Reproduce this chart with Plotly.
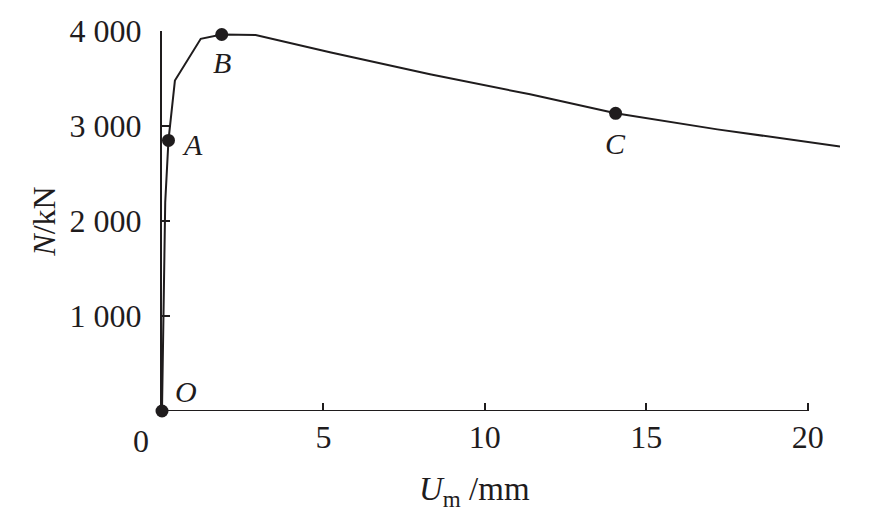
import plotly.graph_objects as go

# load-displacement curve
u_mm = [0, 0.06, 0.1, 0.2, 0.4, 1.2, 1.85, 2.9, 5.2, 8.3, 11.4, 14.05, 17.2, 21.0]
n_kn = [0, 1500, 2200, 2850, 3480, 3920, 3965, 3960, 3778, 3546, 3335, 3135, 2966, 2786]

# marked points
pt_names = ['O', 'A', 'B', 'C']
pt_u = [0, 0.2, 1.85, 14.05]
pt_n = [0, 2850, 3965, 3135]
pt_shift = [(24, 20), (24, -4), (0, -28), (0, -30)]

x_ticks = [5, 10, 15, 20]
y_ticks = [1000, 2000, 3000, 4000]
y_labels = ['1 000', '2 000', '3 000', '4 000']

FONT = 'Liberation Serif'
INK = '#1f1c1d'

fig = go.Figure()

fig.add_scatter(
    x=u_mm, y=n_kn, mode='lines',
    line=dict(color=INK, width=2),
    cliponaxis=False, showlegend=False,
)
fig.add_scatter(
    x=pt_u, y=pt_n, mode='markers',
    marker=dict(color=INK, size=13),
    cliponaxis=False, showlegend=False,
)

for name, u, n, (dx, dy) in zip(pt_names, pt_u, pt_n, pt_shift):
    fig.add_annotation(
        x=u, y=n, text='<i>%s</i>' % name, showarrow=False,
        xshift=dx, yshift=dy, font=dict(size=30, color=INK, family=FONT),
    )

# origin label sits left of the axis
fig.add_annotation(
    x=0, y=0, text='0', showarrow=False, xanchor='center', yanchor='top',
    xshift=-21, yshift=-10, font=dict(size=32, color=INK, family=FONT),
)
# x title, centred on the drawn axis
fig.add_annotation(
    x=10, xref='x', y=0, yref='paper', text='<i>U</i><sub>m</sub> /mm',
    showarrow=False, yanchor='top', yshift=-58, xshift=-10,
    font=dict(size=33, color=INK, family=FONT),
)
# x axis line only runs to 20
fig.add_shape(
    type='line', x0=0, x1=20, y0=0, y1=0, xref='x', yref='y',
    line=dict(color=INK, width=2), layer='below',
)

# page body has an 8px margin, so margins are shifted by that
fig.update_layout(
    width=877, height=523,
    margin=dict(l=154, r=45, t=23, b=120),
    paper_bgcolor='white', plot_bgcolor='white',
    font=dict(family=FONT, size=32, color=INK),
    xaxis=dict(
        range=[0, 21], showgrid=False, zeroline=False, showline=False,
        tickvals=x_ticks, ticks='inside', ticklen=8, tickwidth=2,
        tickcolor=INK, ticklabelstandoff=4, automargin=False,
    ),
    yaxis=dict(
        range=[0, 4002], showgrid=False, zeroline=False,
        showline=True, linewidth=2, linecolor=INK,
        tickvals=y_ticks, ticktext=y_labels, ticks='inside', ticklen=8,
        tickwidth=2, tickcolor=INK, ticklabelstandoff=12, automargin=False,
        title=dict(text='<i>N</i>/kN', standoff=4, font=dict(size=32)),
    ),
)

fig.write_html('out.html')
